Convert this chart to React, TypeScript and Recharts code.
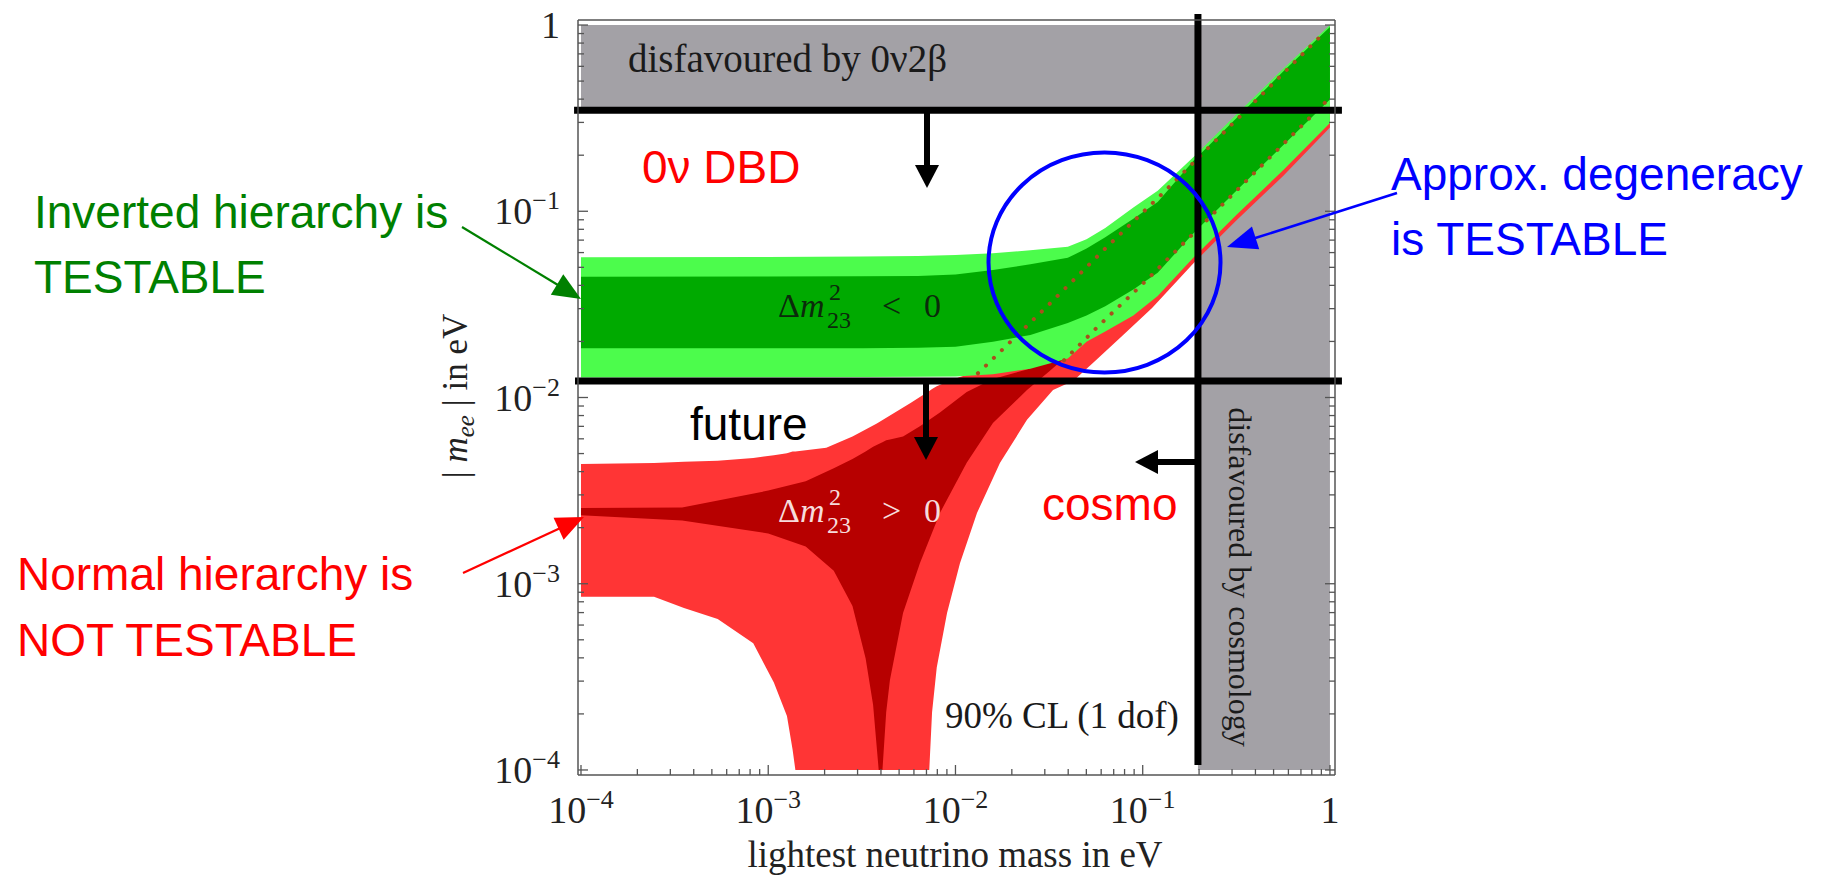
import React from "react";
import {
  ComposedChart,
  Area,
  Line,
  XAxis,
  YAxis,
  ReferenceLine,
  ReferenceDot,
} from "recharts";

// All values are log10 of a mass in eV.
// x: lightest neutrino mass, y: |m_ee|

const W = 1828;
const H = 882;

const decades = [-4, -3, -2, -1, 0];
const decadeBase = ["10", "10", "10", "10", "1"];
const decadeExp = ["\u22124", "\u22123", "\u22122", "\u22121", ""];
const minorMultipliers = [1, 2, 3, 4, 5, 6, 7, 8, 9];

// bounds
const bb0nuBound = -0.457; // disfavoured by 0v2beta
const futureBound = -1.911; // future 0v DBD sensitivity
const cosmoBound = -0.705; // disfavoured by cosmology

// Inverted hierarchy (green)
const ihX = [-4, -3, -2.5, -2.2, -2, -1.8, -1.6, -1.4, -1.3, -1.2, -1.05, -0.92, -0.73, -0.5, -0.25, 0];
const ihOuterHi = [-1.247, -1.246, -1.243, -1.24, -1.235, -1.225, -1.21, -1.19, -1.15, -1.09, -0.98, -0.89, -0.71, -0.48, -0.235, 0];
const ihOuterLo = [-1.892, -1.891, -1.89, -1.889, -1.887, -1.875, -1.845, -1.79, -1.7, -1.645, -1.56, -1.455, -1.25, -1.02, -0.78, -0.526];
const ihInnerHi = [-1.351, -1.35, -1.349, -1.347, -1.34, -1.315, -1.285, -1.25, -1.2, -1.14, -1.04, -0.95, -0.73, -0.5, -0.25, -0.01];
const ihInnerLo = [-1.736, -1.736, -1.735, -1.733, -1.728, -1.7, -1.665, -1.6, -1.56, -1.51, -1.42, -1.33, -1.12, -0.89, -0.645, -0.4];

// Normal hierarchy (red), outer band
const nhOuterX = [-4, -3.61, -3.45, -3.27, -3.08, -2.97, -2.9, -2.87, -2.855, -2.69, -2.55, -2.42, -2.24, -2.14, -2.125, -2.1, -2.045, -1.976, -1.885, -1.762, -1.618, -1.479, -1.37, -1.25, -1.1, -0.95, -0.73, -0.5, -0.25, 0];
const nhOuterLo = [-3.07, -3.07, -3.13, -3.19, -3.32, -3.53, -3.71, -3.89, -4, -4, -4, -4, -4, -4, -3.69, -3.45, -3.157, -2.89, -2.62, -2.35, -2.12, -1.96, -1.91, -1.8, -1.66, -1.52, -1.28, -1.05, -0.81, -0.55];
const nhOuterHi = [-2.357, -2.352, -2.345, -2.34, -2.325, -2.31, -2.3, -2.29, -2.29, -2.27, -2.21, -2.14, -2.03, -1.965, -1.955, -1.94, -1.915, -1.89, -1.86, -1.8, -1.75, -1.7, -1.65, -1.6, -1.5, -1.4, -1.15, -0.92, -0.68, -0.42];

// Normal hierarchy (red), inner band
const nhInnerX = [-4, -3.46, -3, -2.8, -2.65, -2.55, -2.48, -2.44, -2.41, -2.39, -2.37, -2.35, -2.28, -2.19, -2.083, -1.94, -1.8, -1.618, -1.5, -1.42];
const nhInnerLo = [-2.632, -2.66, -2.73, -2.8, -2.93, -3.12, -3.4, -3.65, -4, -4, -3.69, -3.517, -3.157, -2.89, -2.62, -2.35, -2.137, -1.96, -1.86, -1.79];
const nhInnerHi = [-2.594, -2.59, -2.5, -2.45, -2.38, -2.33, -2.29, -2.265, -2.25, -2.24, -2.23, -2.225, -2.21, -2.155, -2.08, -1.97, -1.9, -1.85, -1.8, -1.76];

// Normal hierarchy inner-band edges seen through the green band (dotted)
const nhEdgeUpX = [-1.88, -1.5, -1.2, -0.9, -0.6, -0.3, -0.03];
const nhEdgeUpY = [-1.87, -1.5, -1.2, -0.91, -0.61, -0.31, -0.04];
const nhEdgeLoX = [-1.42, -1.23, -1.0, -0.75, -0.5, -0.25, 0];
const nhEdgeLoY = [-1.8, -1.61, -1.39, -1.14, -0.89, -0.64, -0.39];

// Excluded regions
const grayTopX = [-4, 0];
const grayRightX = [cosmoBound, 0];

// "Approx. degeneracy" marker centre
const degeneracyCentre = { x: -1.204, y: -1.275 };

const rows = (xs: number[], lo: number[], hi: number[]) =>
  xs.map((x, i) => ({ x, band: [lo[i], hi[i]] }));
const pts = (xs: number[], ys: number[]) => xs.map((x, i) => ({ x, y: ys[i] }));

const ihOuter = rows(ihX, ihOuterLo, ihOuterHi);
const ihInner = rows(ihX, ihInnerLo, ihInnerHi);
const nhOuter = rows(nhOuterX, nhOuterLo, nhOuterHi);
const nhInner = rows(nhInnerX, nhInnerLo, nhInnerHi);
const grayTop = grayTopX.map((x) => ({ x, band: [bb0nuBound, 0] }));
const grayRight = grayRightX.map((x) => ({ x, band: [-4, 0] }));
const edgeUp = pts(nhEdgeUpX, nhEdgeUpY);
const edgeLo = pts(nhEdgeLoX, nhEdgeLoY);

const logTicks = decades.flatMap((d) =>
  d === 0 ? [0] : minorMultipliers.map((k) => d + Math.log10(k))
);

const SERIF = "'Liberation Serif', 'Times New Roman', serif";
const SANS = "'Liberation Sans', Arial, sans-serif";
const FRAME = "#555";

const isMajor = (v: number) => Math.abs(v - Math.round(v)) < 1e-6;
const decadeIndex = (v: number) => decades.indexOf(Math.round(v));

const TickLabel = (props: any) => {
  const { x, y, idx, anchor } = props;
  return (
    <text x={x} y={y} textAnchor={anchor} fontFamily={SERIF} fontSize={38} fill="#222">
      {decadeBase[idx]}
      {decadeExp[idx] ? (
        <tspan dy={-15} fontSize={26}>
          {decadeExp[idx]}
        </tspan>
      ) : null}
    </text>
  );
};

const BottomTick = (props: any) => {
  const { x, y, payload } = props;
  const v = payload.value;
  const major = isMajor(v);
  return (
    <g>
      <line x1={x} y1={y} x2={x} y2={y - (major ? 10 : 6)} stroke={FRAME} strokeWidth={1.3} />
      {major ? <TickLabel x={x} y={y + 48} idx={decadeIndex(v)} anchor="middle" /> : null}
    </g>
  );
};
const TopTick = (props: any) => {
  const { x, y, payload } = props;
  const major = isMajor(payload.value);
  return <line x1={x} y1={y} x2={x} y2={y + (major ? 10 : 6)} stroke={FRAME} strokeWidth={1.3} />;
};
const LeftTick = (props: any) => {
  const { x, y, payload } = props;
  const v = payload.value;
  const major = isMajor(v);
  return (
    <g>
      <line x1={x} y1={y} x2={x + (major ? 10 : 6)} y2={y} stroke={FRAME} strokeWidth={1.3} />
      {major ? <TickLabel x={x - 18} y={y + 13} idx={decadeIndex(v)} anchor="end" /> : null}
    </g>
  );
};
const RightTick = (props: any) => {
  const { x, y, payload } = props;
  const major = isMajor(payload.value);
  return <line x1={x} y1={y} x2={x - (major ? 10 : 6)} y2={y} stroke={FRAME} strokeWidth={1.3} />;
};

const Arrow = ({ x1, y1, x2, y2, color, w, head, hw }: any) => {
  const dx = x2 - x1;
  const dy = y2 - y1;
  const L = Math.hypot(dx, dy);
  const ux = dx / L;
  const uy = dy / L;
  const bx = x2 - ux * head;
  const by = y2 - uy * head;
  const px = -uy * hw;
  const py = ux * hw;
  return (
    <g>
      <line x1={x1} y1={y1} x2={bx + ux * 2} y2={by + uy * 2} stroke={color} strokeWidth={w} />
      <polygon points={`${x2},${y2} ${bx + px},${by + py} ${bx - px},${by - py}`} fill={color} />
    </g>
  );
};

const axisLine = { stroke: FRAME, strokeWidth: 1.5 };
const X_DOMAIN: [number, number] = [-4.016, 0.027];
const Y_DOMAIN: [number, number] = [-4.027, 0.027];

export default function App() {
  return (
    <div style={{ position: "absolute", left: 0, top: 0, width: W, height: H, background: "#fff" }}>
      <ComposedChart
        width={W}
        height={H}
        margin={{ left: 518, right: 483, top: 10, bottom: 47 }}
      >
        <XAxis
          dataKey="x"
          type="number"
          domain={X_DOMAIN}
          allowDataOverflow
          ticks={logTicks}
          interval={0}
          tickSize={0}
          tickMargin={0}
          tickLine={false}
          axisLine={axisLine}
          tick={BottomTick}
          height={60}
        />
        <XAxis
          xAxisId="top"
          orientation="top"
          type="number"
          domain={X_DOMAIN}
          allowDataOverflow
          ticks={logTicks}
          interval={0}
          tickSize={0}
          tickMargin={0}
          tickLine={false}
          axisLine={axisLine}
          tick={TopTick}
          height={10}
        />
        <YAxis
          type="number"
          domain={Y_DOMAIN}
          allowDataOverflow
          ticks={logTicks}
          interval={0}
          tickSize={0}
          tickMargin={0}
          tickLine={false}
          axisLine={axisLine}
          tick={LeftTick}
          width={60}
        />
        <YAxis
          yAxisId="right"
          orientation="right"
          type="number"
          domain={Y_DOMAIN}
          allowDataOverflow
          ticks={logTicks}
          interval={0}
          tickSize={0}
          tickMargin={0}
          tickLine={false}
          axisLine={axisLine}
          tick={RightTick}
          width={10}
        />

        <Area data={grayTop} dataKey="band" type="linear" stroke="none" fill="#a3a1a6" fillOpacity={1} isAnimationActive={false} dot={false} activeDot={false} />
        <Area data={grayRight} dataKey="band" type="linear" stroke="none" fill="#a3a1a6" fillOpacity={1} isAnimationActive={false} dot={false} activeDot={false} />
        <Area data={nhOuter} dataKey="band" type="linear" stroke="none" fill="#ff3535" fillOpacity={1} isAnimationActive={false} dot={false} activeDot={false} />
        <Area data={nhInner} dataKey="band" type="linear" stroke="none" fill="#b70000" fillOpacity={1} isAnimationActive={false} dot={false} activeDot={false} />
        <Area data={ihOuter} dataKey="band" type="linear" stroke="none" fill="#4cfc4c" fillOpacity={1} isAnimationActive={false} dot={false} activeDot={false} />
        <Area data={ihInner} dataKey="band" type="linear" stroke="none" fill="#00aa00" fillOpacity={1} isAnimationActive={false} dot={false} activeDot={false} />
        <Line data={edgeUp} dataKey="y" type="linear" stroke="#a8501c" strokeWidth={4} strokeDasharray="0.1 11" strokeLinecap="round" dot={false} activeDot={false} isAnimationActive={false} />
        <Line data={edgeLo} dataKey="y" type="linear" stroke="#a8501c" strokeWidth={4} strokeDasharray="0.1 11" strokeLinecap="round" dot={false} activeDot={false} isAnimationActive={false} />

        <ReferenceLine
          segment={[{ x: -4.037, y: bb0nuBound }, { x: 0.064, y: bb0nuBound }]}
          stroke="#000"
          strokeWidth={7}
          ifOverflow="visible"
        />
        <ReferenceLine
          segment={[{ x: -4.032, y: futureBound }, { x: 0.064, y: futureBound }]}
          stroke="#000"
          strokeWidth={7}
          ifOverflow="visible"
        />
        <ReferenceLine
          segment={[{ x: cosmoBound, y: 0.059 }, { x: cosmoBound, y: -3.973 }]}
          stroke="#000"
          strokeWidth={7}
          ifOverflow="visible"
        />
        <ReferenceDot
          x={degeneracyCentre.x}
          y={degeneracyCentre.y}
          r={1}
          ifOverflow="visible"
          shape={(p: any) => (
            <ellipse cx={p.cx} cy={p.cy} rx={116} ry={110} fill="none" stroke="#0000ff" strokeWidth={4} />
          )}
        />
      </ComposedChart>

      <svg
        width={W}
        height={H}
        style={{ position: "absolute", left: 0, top: 0, pointerEvents: "none" }}
      >
        {/* plot texts */}
        <text x={628} y={72} fontFamily={SERIF} fontSize={39} fill="#1a1a1a">
          disfavoured by 0ν2β
        </text>
        <text
          x={1229}
          y={577}
          transform="rotate(90 1229 577)"
          textAnchor="middle"
          fontFamily={SERIF}
          fontSize={32}
          fill="#1a1a1a"
        >
          disfavoured by cosmology
        </text>
        <text x={945} y={728} fontFamily={SERIF} fontSize={37} fill="#1a1a1a">
          90% CL (1 dof)
        </text>
        <text fontFamily={SERIF} fontSize={34} fill="#0b2a0b">
          <tspan x={778} y={317}>Δ</tspan>
          <tspan fontStyle="italic">m</tspan>
          <tspan x={829} y={300} fontSize={24}>2</tspan>
          <tspan x={827} y={328} fontSize={24}>23</tspan>
          <tspan x={882} y={317}>&lt;</tspan>
          <tspan x={924} y={317}>0</tspan>
        </text>
        <text fontFamily={SERIF} fontSize={34} fill="#f6dcdc">
          <tspan x={778} y={522}>Δ</tspan>
          <tspan fontStyle="italic">m</tspan>
          <tspan x={829} y={505} fontSize={24}>2</tspan>
          <tspan x={827} y={533} fontSize={24}>23</tspan>
          <tspan x={882} y={522}>&gt;</tspan>
          <tspan x={924} y={522}>0</tspan>
        </text>

        <text x={642} y={183} fontFamily={SANS} fontSize={46} fill="#ff0000">
          0ν DBD
        </text>
        <text x={690} y={440} fontFamily={SANS} fontSize={46} fill="#000">
          future
        </text>
        <text x={1042} y={520} fontFamily={SANS} fontSize={46} fill="#ff0000">
          cosmo
        </text>

        {/* axis titles */}
        <text x={955} y={867} textAnchor="middle" fontFamily={SERIF} fontSize={37} fill="#222">
          lightest neutrino mass in eV
        </text>
        <text
          x={467}
          y={396}
          transform="rotate(-90 467 396)"
          textAnchor="middle"
          fontFamily={SERIF}
          fontSize={35}
          fill="#222"
        >
          |{" "}
          <tspan fontStyle="italic">m</tspan>
          <tspan fontStyle="italic" fontSize={25} dy={7}>ee</tspan>
          <tspan dy={-7}> | in eV</tspan>
        </text>

        {/* side annotations */}
        <text fontFamily={SANS} fontSize={46} fill="#008000">
          <tspan x={34} y={228}>Inverted hierarchy is</tspan>
          <tspan x={34} y={293}>TESTABLE</tspan>
        </text>
        <text fontFamily={SANS} fontSize={46} fill="#ff0000">
          <tspan x={17} y={590}>Normal hierarchy is</tspan>
          <tspan x={17} y={656}>NOT TESTABLE</tspan>
        </text>
        <text fontFamily={SANS} fontSize={46} fill="#0000ff">
          <tspan x={1391} y={190}>Approx. degeneracy</tspan>
          <tspan x={1391} y={255}>is TESTABLE</tspan>
        </text>

        {/* arrows */}
        <Arrow x1={462} y1={227} x2={581} y2={299} color="#008000" w={2.2} head={28} hw={12} />
        <Arrow x1={463} y1={573} x2={584} y2={517} color="#ff0000" w={2.2} head={28} hw={12} />
        <Arrow x1={1397} y1={193} x2={1227} y2={247} color="#0000ff" w={2.5} head={30} hw={12} />
        <Arrow x1={927} y1={110} x2={927} y2={188} color="#000" w={6} head={23} hw={12} />
        <Arrow x1={926} y1={381} x2={926} y2={460} color="#000" w={6} head={23} hw={12} />
        <Arrow x1={1198} y1={462} x2={1135} y2={462} color="#000" w={6} head={23} hw={12} />
      </svg>
    </div>
  );
}
